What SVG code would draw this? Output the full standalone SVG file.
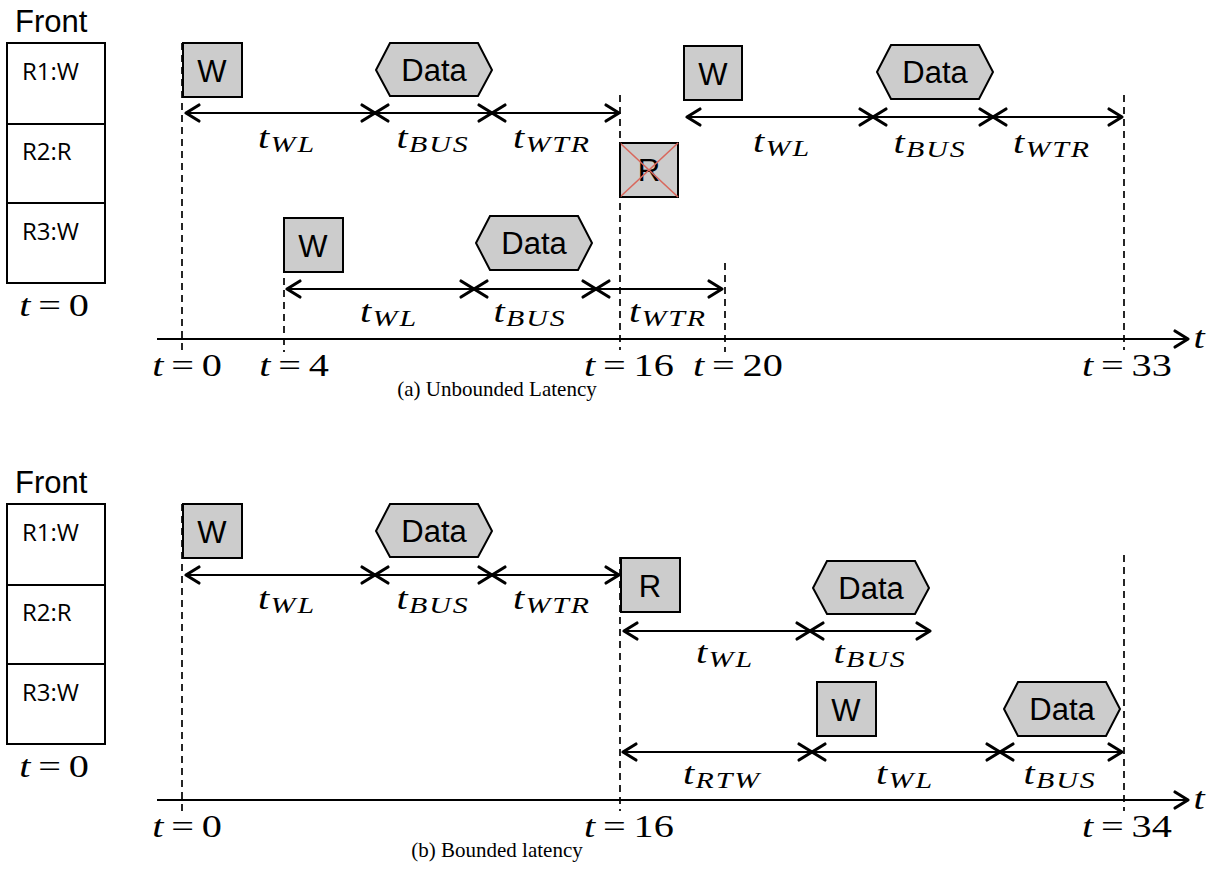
<svg xmlns="http://www.w3.org/2000/svg" width="1218" height="884" viewBox="0 0 1218 884">
<style>
.bg{fill:#fff}
.box{fill:#fff;stroke:#000;stroke-width:2}
.cmd{fill:#cccccc;stroke:#000;stroke-width:2}
.lbl{font-family:"Liberation Sans",Arial,sans-serif;font-size:31px;text-anchor:middle;fill:#000}
.front{font-family:"Liberation Sans",Arial,sans-serif;font-size:31px;fill:#000}
.row{font-family:"Open Sans","Liberation Sans",sans-serif;font-size:24px;fill:#000}
.dash{stroke:#000;stroke-width:1.7;stroke-dasharray:7 5;fill:none}
.arr{stroke:#000;stroke-width:2;fill:none;marker-start:url(#h);marker-end:url(#h)}
.axis{stroke:#000;stroke-width:2;fill:none;marker-end:url(#h)}
.x{stroke:#d9675c;stroke-width:1.6}
.m{font-family:"Liberation Serif","Times New Roman",serif;font-style:italic;font-size:31px;text-anchor:middle;fill:#000}
.s{font-size:23px;letter-spacing:1.5px}
.n{font-style:normal}
.cap{font-family:"Liberation Serif","Times New Roman",serif;font-size:21px;text-anchor:middle;fill:#000}
</style>
<defs>
<marker id="h" viewBox="-16 -11 19 22" markerWidth="19" markerHeight="22" refX="0" refY="0" orient="auto-start-reverse" markerUnits="userSpaceOnUse">
<path d="M-13,-8 L0,0 L-13,8" fill="none" stroke="#000" stroke-width="3.2" stroke-linecap="round" stroke-linejoin="round"/>
</marker>
</defs>
<rect class="bg" x="0" y="0" width="1218" height="884"/>

<!-- ===== Panel (a) ===== -->
<g id="a-queue">
<text class="front" x="15" y="32">Front</text>
<rect class="box" x="7" y="43" width="98" height="81"/>
<rect class="box" x="7" y="124" width="98" height="79"/>
<rect class="box" x="7" y="203" width="98" height="80"/>
<text class="row" x="22" y="80">R1:W</text>
<text class="row" x="22" y="160">R2:R</text>
<text class="row" x="22" y="240">R3:W</text>
<text class="m" transform="translate(54,316) scale(1.3,1)">t<tspan class="n" dx="6">=</tspan><tspan class="n" dx="6">0</tspan></text>
</g>

<g id="a-w1"><rect class="cmd" x="183" y="43" width="59" height="54"/><text class="lbl" x="212" y="82">W</text></g>
<g id="a-data1"><polygon class="cmd" points="376,70 390,43 478,43 492,70 478,96 390,96"/><text class="lbl" x="434" y="81">Data</text></g>
<g id="a-r"><rect class="cmd" x="620" y="143" width="58" height="54"/><text class="lbl" x="649" y="181">R</text><line class="x" x1="620" y1="143" x2="678" y2="197"/><line class="x" x1="678" y1="143" x2="620" y2="197"/></g>
<g id="a-w2"><rect class="cmd" x="684" y="46" width="58" height="54"/><text class="lbl" x="713" y="85">W</text></g>
<g id="a-data2"><polygon class="cmd" points="877,72 891,45 979,45 993,72 979,99 891,99"/><text class="lbl" x="935" y="83">Data</text></g>
<g id="a-w3"><rect class="cmd" x="284" y="218" width="59" height="54"/><text class="lbl" x="313" y="257">W</text></g>
<g id="a-data3"><polygon class="cmd" points="476,243 490,216 578,216 592,243 578,270 490,270"/><text class="lbl" x="534" y="254">Data</text></g>

<g id="a-connectors">
<line class="dash" x1="182" y1="43" x2="182" y2="350"/>
<line class="dash" x1="284" y1="218" x2="284" y2="352"/>
<line class="dash" x1="620" y1="95" x2="620" y2="350"/>
<line class="dash" x1="725" y1="263" x2="725" y2="352"/>
<line class="dash" x1="1124" y1="95" x2="1124" y2="350"/>
<line class="axis" x1="157" y1="339" x2="1188" y2="339"/>
<line class="arr" x1="186" y1="113" x2="375" y2="113"/>
<line class="arr" x1="375" y1="113" x2="492" y2="113"/>
<line class="arr" x1="492" y1="113" x2="619" y2="113"/>
<line class="arr" x1="687" y1="117" x2="873" y2="117"/>
<line class="arr" x1="873" y1="117" x2="993" y2="117"/>
<line class="arr" x1="993" y1="117" x2="1122" y2="117"/>
<line class="arr" x1="287" y1="289" x2="474" y2="289"/>
<line class="arr" x1="474" y1="289" x2="596" y2="289"/>
<line class="arr" x1="596" y1="289" x2="722" y2="289"/>
</g>

<g id="a-labels">
<text class="m" transform="translate(287,148) scale(1.3,1)">t<tspan class="s" dx="1" dy="4">WL</tspan></text>
<text class="m" transform="translate(433,148) scale(1.3,1)">t<tspan class="s" dx="1" dy="4">BUS</tspan></text>
<text class="m" transform="translate(552,148) scale(1.3,1)">t<tspan class="s" dx="1" dy="4">WTR</tspan></text>
<text class="m" transform="translate(782,152) scale(1.3,1)">t<tspan class="s" dx="1" dy="4">WL</tspan></text>
<text class="m" transform="translate(930,153) scale(1.3,1)">t<tspan class="s" dx="1" dy="4">BUS</tspan></text>
<text class="m" transform="translate(1052,153) scale(1.3,1)">t<tspan class="s" dx="1" dy="4">WTR</tspan></text>
<text class="m" transform="translate(389,322) scale(1.3,1)">t<tspan class="s" dx="1" dy="4">WL</tspan></text>
<text class="m" transform="translate(530,322) scale(1.3,1)">t<tspan class="s" dx="1" dy="4">BUS</tspan></text>
<text class="m" transform="translate(668,322) scale(1.3,1)">t<tspan class="s" dx="1" dy="4">WTR</tspan></text>
<text class="m" transform="translate(1199,348) scale(1.3,1)">t</text>
<text class="m" transform="translate(187,376) scale(1.3,1)">t<tspan class="n" dx="6">=</tspan><tspan class="n" dx="6">0</tspan></text>
<text class="m" transform="translate(294,376) scale(1.3,1)">t<tspan class="n" dx="6">=</tspan><tspan class="n" dx="6">4</tspan></text>
<text class="m" transform="translate(629,376) scale(1.3,1)">t<tspan class="n" dx="6">=</tspan><tspan class="n" dx="6">16</tspan></text>
<text class="m" transform="translate(738,376) scale(1.3,1)">t<tspan class="n" dx="6">=</tspan><tspan class="n" dx="6">20</tspan></text>
<text class="m" transform="translate(1127,376) scale(1.3,1)">t<tspan class="n" dx="6">=</tspan><tspan class="n" dx="6">33</tspan></text>
<text class="cap" x="497" y="396">(a) Unbounded Latency</text>
</g>

<!-- ===== Panel (b) ===== -->
<g id="b-queue">
<text class="front" x="15" y="493">Front</text>
<rect class="box" x="7" y="504" width="98" height="81"/>
<rect class="box" x="7" y="585" width="98" height="79"/>
<rect class="box" x="7" y="664" width="98" height="80"/>
<text class="row" x="22" y="541">R1:W</text>
<text class="row" x="22" y="621">R2:R</text>
<text class="row" x="22" y="701">R3:W</text>
<text class="m" transform="translate(54,777) scale(1.3,1)">t<tspan class="n" dx="6">=</tspan><tspan class="n" dx="6">0</tspan></text>
</g>

<g id="b-w1"><rect class="cmd" x="183" y="504" width="59" height="54"/><text class="lbl" x="212" y="543">W</text></g>
<g id="b-data1"><polygon class="cmd" points="376,531 390,504 478,504 492,531 478,557 390,557"/><text class="lbl" x="434" y="542">Data</text></g>
<g id="b-r"><rect class="cmd" x="621" y="558" width="59" height="54"/><text class="lbl" x="650" y="597">R</text></g>
<g id="b-data2"><polygon class="cmd" points="813,588 827,561 915,561 929,588 915,614 827,614"/><text class="lbl" x="871" y="599">Data</text></g>
<g id="b-w2"><rect class="cmd" x="817" y="682" width="59" height="54"/><text class="lbl" x="846" y="721">W</text></g>
<g id="b-data3"><polygon class="cmd" points="1004,709 1018,682 1106,682 1120,709 1106,736 1018,736"/><text class="lbl" x="1062" y="720">Data</text></g>

<g id="b-connectors">
<line class="dash" x1="182" y1="504" x2="182" y2="811"/>
<line class="dash" x1="620" y1="557" x2="620" y2="811"/>
<line class="dash" x1="1124" y1="555" x2="1124" y2="811"/>
<line class="axis" x1="157" y1="800" x2="1188" y2="800"/>
<line class="arr" x1="186" y1="575" x2="375" y2="575"/>
<line class="arr" x1="375" y1="575" x2="492" y2="575"/>
<line class="arr" x1="492" y1="575" x2="619" y2="575"/>
<line class="arr" x1="624" y1="631" x2="810" y2="631"/>
<line class="arr" x1="810" y1="631" x2="930" y2="631"/>
<line class="arr" x1="623" y1="752" x2="812" y2="752"/>
<line class="arr" x1="812" y1="752" x2="1000" y2="752"/>
<line class="arr" x1="1000" y1="752" x2="1122" y2="752"/>
</g>

<g id="b-labels">
<text class="m" transform="translate(287,609) scale(1.3,1)">t<tspan class="s" dx="1" dy="4">WL</tspan></text>
<text class="m" transform="translate(433,609) scale(1.3,1)">t<tspan class="s" dx="1" dy="4">BUS</tspan></text>
<text class="m" transform="translate(552,609) scale(1.3,1)">t<tspan class="s" dx="1" dy="4">WTR</tspan></text>
<text class="m" transform="translate(725,663) scale(1.3,1)">t<tspan class="s" dx="1" dy="4">WL</tspan></text>
<text class="m" transform="translate(870,663) scale(1.3,1)">t<tspan class="s" dx="1" dy="4">BUS</tspan></text>
<text class="m" transform="translate(722,784) scale(1.3,1)">t<tspan class="s" dx="1" dy="4">RTW</tspan></text>
<text class="m" transform="translate(905,784) scale(1.3,1)">t<tspan class="s" dx="1" dy="4">WL</tspan></text>
<text class="m" transform="translate(1060,784) scale(1.3,1)">t<tspan class="s" dx="1" dy="4">BUS</tspan></text>
<text class="m" transform="translate(1199,809) scale(1.3,1)">t</text>
<text class="m" transform="translate(187,837) scale(1.3,1)">t<tspan class="n" dx="6">=</tspan><tspan class="n" dx="6">0</tspan></text>
<text class="m" transform="translate(629,837) scale(1.3,1)">t<tspan class="n" dx="6">=</tspan><tspan class="n" dx="6">16</tspan></text>
<text class="m" transform="translate(1127,837) scale(1.3,1)">t<tspan class="n" dx="6">=</tspan><tspan class="n" dx="6">34</tspan></text>
<text class="cap" x="497" y="857">(b) Bounded latency</text>
</g>
</svg>
